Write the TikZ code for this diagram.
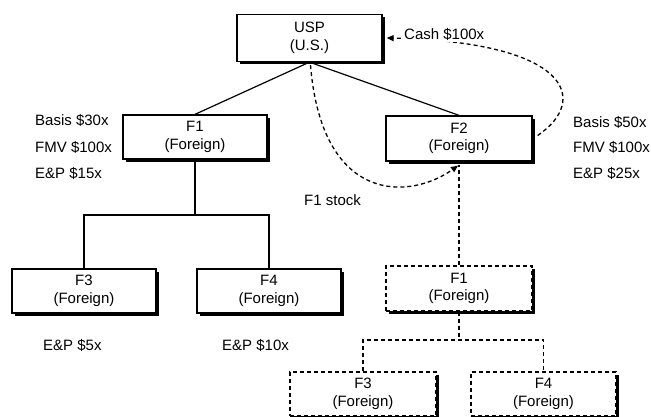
\documentclass[tikz,border=0pt]{standalone}
\usepackage{fontspec}
\setmainfont{Liberation Sans}
\usetikzlibrary{shadows,arrows.meta,calc}
\newcommand\boxfont{\fontsize{15}{17.5}\selectfont}

\begin{document}
\begin{tikzpicture}[x=1pt,y=-1pt,
  ent/.style={draw, line width=1.3pt, fill=white, minimum width=144pt,
    minimum height=44pt, align=center, inner sep=0pt, font=\boxfont,
    drop shadow={shadow xshift=3pt, shadow yshift=-3pt, fill=black, opacity=1}},
  ghost/.style={ent, dash pattern=on 4pt off 3pt},
  lbl/.style={anchor=west, inner sep=0pt, font=\boxfont},
  own/.style={line width=1.2pt},
  dsh/.style={line width=1.3pt, dash pattern=on 4pt off 3pt},
  mv/.style={dsh, -{Triangle[length=7pt,width=6pt]}}
]
\useasboundingbox (0,0) rectangle (651,417);

% entities before the transaction
\node[ent, minimum width=145pt, minimum height=47pt] (usp) at (309.5,38) {USP\\(U.S.)};
\node[ent] (f1) at (195,137) {F1\\(Foreign)};
\node[ent, minimum width=146pt, minimum height=45pt] (f2) at (459,138.5) {F2\\(Foreign)};
\node[ent] (f3) at (84,291) {F3\\(Foreign)};
\node[ent] (f4) at (269,291) {F4\\(Foreign)};

% entities after the transaction
\node[ghost, minimum width=146pt, minimum height=45pt] (df1) at (459,288.5) {F1\\(Foreign)};
\node[ghost, minimum width=146pt] (df3) at (363,394) {F3\\(Foreign)};
\node[ghost, minimum width=145pt] (df4) at (543.5,394) {F4\\(Foreign)};

% ownership lines
\draw[own] (usp.south) -- (f1.north);
\draw[own] (usp.south) -- (f2.north);
\coordinate (j1) at (195,215);
\draw[own] (f1.south) -- (j1);
\draw[own] (f3.north) |- (j1) -| (f4.north);

\coordinate (j2) at (459,340);
\draw[dsh] (df1.south) -- (j2);
\draw[dsh] (df3.north) |- (j2) -| (df4.north);
\draw[dsh] (df1.north) -- ($(f2.south)+(0,3)$);

% transfers
\draw[mv] ($(usp.south)+(1,3)$) .. controls (322,205) and (410,200) .. ($(f2.south)+(-1,4)$);
\draw[mv] ($(f2.east)+(5,-3)$) .. controls (590,100) and (570,42) .. ($(usp.east)+(4,0)$);

% labels
\node[lbl, fill=white, inner xsep=1pt, inner ysep=1pt] (cash) at (403,34.5) {Cash \$100x};
\node[lbl] (stock) at (304,200) {F1 stock};

\node[lbl] (b1) at (35,120) {Basis \$30x};
\node[lbl] (v1) at (35,147) {FMV \$100x};
\node[lbl] (e1) at (35,173) {E\&P \$15x};

\node[lbl] (b2) at (573,122) {Basis \$50x};
\node[lbl] (v2) at (573,147) {FMV \$100x};
\node[lbl] (e2) at (573,173) {E\&P \$25x};

\node[lbl] (e3) at (43,345) {E\&P \$5x};
\node[lbl] (e4) at (222,345) {E\&P \$10x};
\end{tikzpicture}
\end{document}
